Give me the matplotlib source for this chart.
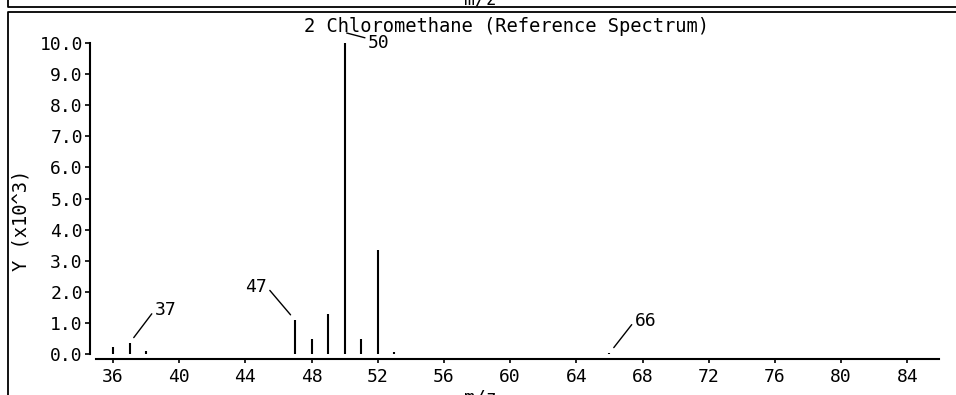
import matplotlib
matplotlib.use("Agg")
import matplotlib.pyplot as plt
from matplotlib.lines import Line2D
from matplotlib.transforms import offset_copy

# ---- data ----
mz = [36, 37, 38, 47, 48, 49, 50, 51, 52, 53, 66]
intensity = [0.22, 0.35, 0.10, 1.09, 0.47, 1.28, 10.0, 0.47, 3.35, 0.06, 0.03]  # x10^3
labeled_peaks = [37, 47, 50, 66]
x_ticks = list(range(36, 85, 4))
y_ticks = [0, 1, 2, 3, 4, 5, 6, 7, 8, 9, 10]
title = "2 Chloromethane (Reference Spectrum)"
x_label = "m/z"
y_label = "Y (x10^3)"

W, H = 956, 395
plt.rcParams['font.family'] = ['DejaVu Sans Mono', 'DejaVu Sans']
FS = 13

fig = plt.figure(figsize=(W / 100, H / 100), dpi=100)
fig.patch.set_facecolor('white')

def fx(px):
    return px / W

def fy(py):
    return 1 - py / H

# axes: left spine at px 90, right end px 939, top (y=10) px 43, bottom px 359
ax = fig.add_axes([fx(90), fy(359), fx(939) - fx(90), fy(43) - fy(359)])
ax.set_xlim(34.61, 85.91)
ax.set_ylim(-0.16, 10.0)

ax.vlines(mz, 0, intensity, colors='black', lw=1.5, clip_on=False)

for s in ['top', 'right']:
    ax.spines[s].set_visible(False)
ax.spines['left'].set_bounds(0, 10)
ax.spines['bottom'].set_bounds(34.97, 85.91)
for s in ['left', 'bottom']:
    ax.spines[s].set_linewidth(1.5)
    ax.spines[s].set_color('black')

ax.set_xticks(x_ticks)
ax.set_xticklabels([str(t) for t in x_ticks])
ax.set_yticks(y_ticks)
ax.set_yticklabels([f"{t:.1f}" for t in y_ticks])
ax.tick_params(axis='x', direction='out', length=3, width=1.2, pad=3.6,
               labelsize=FS, colors='black')
ax.tick_params(axis='y', direction='out', length=3.6, width=1.2, pad=1.5,
               labelsize=FS, colors='black')

# peak labels: (text dx px, text dy px, ha, relpos, anchor dx px, anchor dy px, shrinkB)
label_layout = {
    37: (25, 33, 'left', (0, 0.5), 0, 0, 5),
    47: (-28, 33, 'right', (1, 0.5), 0, 0, 5),
    50: (21, -10, 'left', (0, 0.75), 2, 10, 0),
    66: (25, 32, 'left', (0, 0.5), 0, 0, 5),
}
for m in labeled_peaks:
    v = intensity[mz.index(m)]
    dx, dy, ha, rp, adx, ady, sb = label_layout[m]
    tr = offset_copy(ax.transData, fig=fig, x=adx, y=ady, units='dots')
    ax.annotate(str(m), xy=(m, v), xycoords=tr, xytext=(dx, dy),
                textcoords='offset pixels', ha=ha, va='center', fontsize=FS,
                annotation_clip=False,
                arrowprops=dict(arrowstyle='-', color='black', lw=1.0,
                                shrinkA=0, shrinkB=sb, relpos=rp))

# title & labels
fig.text(fx(507), fy(27), title, ha='center', va='center', fontsize=FS + 0.5)
fig.text(fx(21), fy(220), y_label, ha='center', va='center', rotation=90,
         fontsize=FS + 0.5)
fig.text(fx(480), fy(389), x_label, ha='center', va='top', fontsize=FS)
# cut-off label of the panel above
fig.text(fx(480), fy(4), x_label, ha='center', va='baseline', fontsize=FS)

# frame lines
fig.add_artist(Line2D([fx(8), fx(8), fx(956)], [fy(0), fy(7), fy(7)],
                      transform=fig.transFigure, color='black', lw=1.3))
fig.add_artist(Line2D([fx(956), fx(8), fx(8)], [fy(12), fy(12), fy(395)],
                      transform=fig.transFigure, color='black', lw=1.3))

fig.savefig('out.png', dpi=100, facecolor='white')
